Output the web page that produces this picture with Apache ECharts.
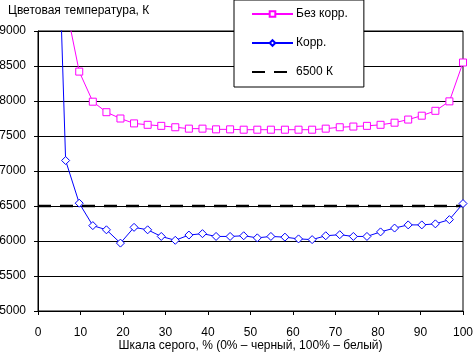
<!doctype html>
<html>
    <head>
        <meta charset="utf-8">
        <title>Цветовая температура</title>
        <style>
            html, body { margin: 0; padding: 0; background: #fff; }
            #main { width: 473px; height: 354px; }
        </style>
    </head>
    <body>
        <div id="main"></div>
        <script src="https://cdn.jsdelivr.net/npm/echarts@6/dist/echarts.min.js"></script>
        <script>
            // шкала серого, %
            var grayPct = [0, 3.2, 6.5, 9.7, 12.9, 16.1, 19.4, 22.6, 25.8, 29.0, 32.3, 35.5, 38.7, 41.9, 45.2, 48.4,
                51.6, 54.8, 58.1, 61.3, 64.5, 67.7, 71.0, 74.2, 77.4, 80.6, 83.9, 87.1, 90.3, 93.5, 96.8, 100];

            // Без корр.
            var noCorr = [null, 12000, 9380, 8420, 7990, 7840, 7750, 7680, 7660, 7645, 7625, 7605, 7605, 7595, 7595, 7590,
                7590, 7590, 7590, 7590, 7590, 7605, 7625, 7635, 7645, 7660, 7690, 7735, 7790, 7860, 7995, 8550];

            // Корр.
            var corr = [null, 13500, 7150, 6540, 6220, 6160, 5970, 6195, 6160, 6065, 6010, 6085, 6105, 6065, 6065, 6075,
                6045, 6065, 6055, 6030, 6020, 6075, 6090, 6065, 6065, 6130, 6185, 6230, 6230, 6245, 6305, 6535];

            var refTemp = 6500;
            var seriesNames = ['Без корр.', 'Корр.', '6500 К'];

            function pairs(ys) {
                return grayPct.map(function (x, i) {
                    return [x, ys[i]];
                });
            }

            var font = '"Liberation Sans", Arial, sans-serif';
            var chart = echarts.init(document.getElementById('main'));

            chart.setOption({
                animation: false,
                backgroundColor: '#fff',
                textStyle: { fontFamily: font, color: '#000' },
                title: {
                    text: 'Цветовая температура, К',
                    left: 8,
                    top: 5,
                    padding: 0,
                    textStyle: { fontFamily: font, fontSize: 12, fontWeight: 'normal', color: '#000' }
                },
                legend: {
                    orient: 'vertical',
                    left: 234,
                    top: 0,
                    padding: [8, 16, 9, 17],
                    itemWidth: 41,
                    itemHeight: 7,
                    itemGap: 17,
                    borderColor: '#000',
                    borderWidth: 1,
                    backgroundColor: '#fff',
                    textStyle: { fontFamily: font, fontSize: 12, color: '#000', padding: [0, 0, 0, -2] },
                    data: [
                        seriesNames[0],
                        seriesNames[1],
                        { name: seriesNames[2], itemStyle: { opacity: 0 } }
                    ]
                },
                grid: {
                    left: 38,
                    right: 10,
                    top: 31,
                    bottom: 43,
                    outerBoundsMode: 'none',
                    containLabel: false,
                    show: true,
                    borderColor: '#000',
                    borderWidth: 1
                },
                xAxis: {
                    type: 'value',
                    min: 0,
                    max: 100,
                    interval: 10,
                    name: 'Шкала серого, % (0% – черный, 100% – белый)',
                    nameLocation: 'middle',
                    nameGap: 29,
                    nameMoveOverlap: false,
                    nameTextStyle: { fontFamily: font, fontSize: 12, color: '#000' },
                    axisLine: { lineStyle: { color: '#000', width: 1 } },
                    axisTick: { show: true, length: 4, lineStyle: { color: '#000' } },
                    axisLabel: { margin: 16, fontFamily: font, fontSize: 12, color: '#000' },
                    splitLine: { show: false }
                },
                yAxis: {
                    type: 'value',
                    min: 5000,
                    max: 9000,
                    interval: 500,
                    axisLine: { show: true, lineStyle: { color: '#000', width: 1 } },
                    axisTick: { show: true, length: 4, lineStyle: { color: '#000' } },
                    axisLabel: {
                        margin: 12,
                        fontFamily: font,
                        fontSize: 12,
                        color: '#000',
                        formatter: function (v) { return String(v); }
                    },
                    splitLine: { show: true, lineStyle: { color: '#000', width: 1 } }
                },
                series: [
                    {
                        name: seriesNames[0],
                        type: 'line',
                        data: pairs(noCorr),
                        clip: true,
                        symbol: 'rect',
                        symbolSize: 7,
                        showAllSymbol: true,
                        itemStyle: { color: '#fff', borderColor: '#ff00ff', borderWidth: 1 },
                        lineStyle: { color: '#ff00ff', width: 1 },
                        emphasis: { disabled: true },
                        z: 3
                    },
                    {
                        name: seriesNames[1],
                        type: 'line',
                        data: pairs(corr),
                        clip: true,
                        symbol: 'diamond',
                        symbolSize: 8,
                        showAllSymbol: true,
                        itemStyle: { color: '#fff', borderColor: '#0000ff', borderWidth: 1 },
                        lineStyle: { color: '#0000ff', width: 1 },
                        emphasis: { disabled: true },
                        z: 3
                    },
                    {
                        name: seriesNames[2],
                        type: 'line',
                        data: [[0, refTemp], [100, refTemp]],
                        symbol: 'none',
                        itemStyle: { color: '#000' },
                        lineStyle: { color: '#000', width: 2.5, type: [13, 9] },
                        emphasis: { disabled: true },
                        z: 2
                    }
                ]
            });

            window.onresize = chart.resize;
        </script>
    </body>
</html>
